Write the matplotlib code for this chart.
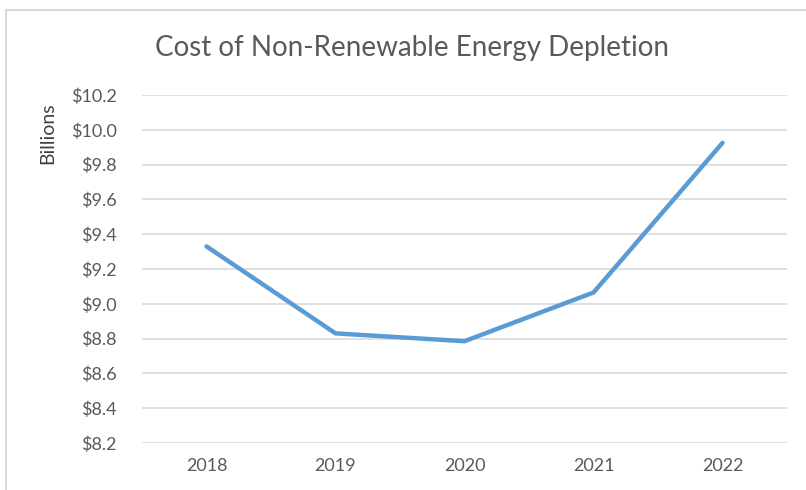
import matplotlib.pyplot as plt
from matplotlib.lines import Line2D
import numpy as np

# data
years = ['2018', '2019', '2020', '2021', '2022']
cost = [9.33, 8.83, 8.785, 9.065, 9.925]
yticks = [8.2, 8.4, 8.6, 8.8, 9.0, 9.2, 9.4, 9.6, 9.8, 10.0, 10.2]

plt.rcParams['font.family'] = ['Lato', 'DejaVu Sans']
txt = '#595959'
grid = '#D9D9D9'

fig = plt.figure(figsize=(8.06, 4.9), dpi=100)
ax = fig.add_axes([142/806, 1 - 443/490, (787 - 142)/806, (443 - 95)/490])

x = np.arange(len(years))
ax.plot(x, cost, color='#5B9BD5', linewidth=3.2, solid_capstyle='round',
        solid_joinstyle='round', zorder=3)

ax.set_xlim(-0.5, len(years) - 0.5)
ax.set_ylim(8.2, 10.2)
ax.set_xticks(x)
ax.set_xticklabels(years)
ax.set_yticks(yticks)
ax.set_yticklabels(['$%.1f' % v for v in yticks])
ax.tick_params(length=0, labelsize=13, colors=txt)
ax.tick_params(axis='x', pad=11)
ax.tick_params(axis='y', pad=18)
ax.grid(axis='y', color=grid, linewidth=1.2)
ax.set_axisbelow(True)
for s in ax.spines.values():
    s.set_visible(False)

fig.text(412/806, 1 - 48/490, 'Cost of Non-Renewable Energy Depletion',
         ha='center', va='center', fontsize=20, color=txt)
fig.text(48/806, 1 - 133/490, 'Billions', rotation=90,
         ha='center', va='center', fontsize=14, color='#404040')

# chart area border (cropped at right and bottom)
fig.add_artist(Line2D([6/806, 6/806], [0, 1 - 10/490], color=grid, linewidth=1.5))
fig.add_artist(Line2D([6/806, 1], [1 - 10/490, 1 - 10/490], color=grid, linewidth=1.5))

fig.savefig('out.png', dpi=100)
